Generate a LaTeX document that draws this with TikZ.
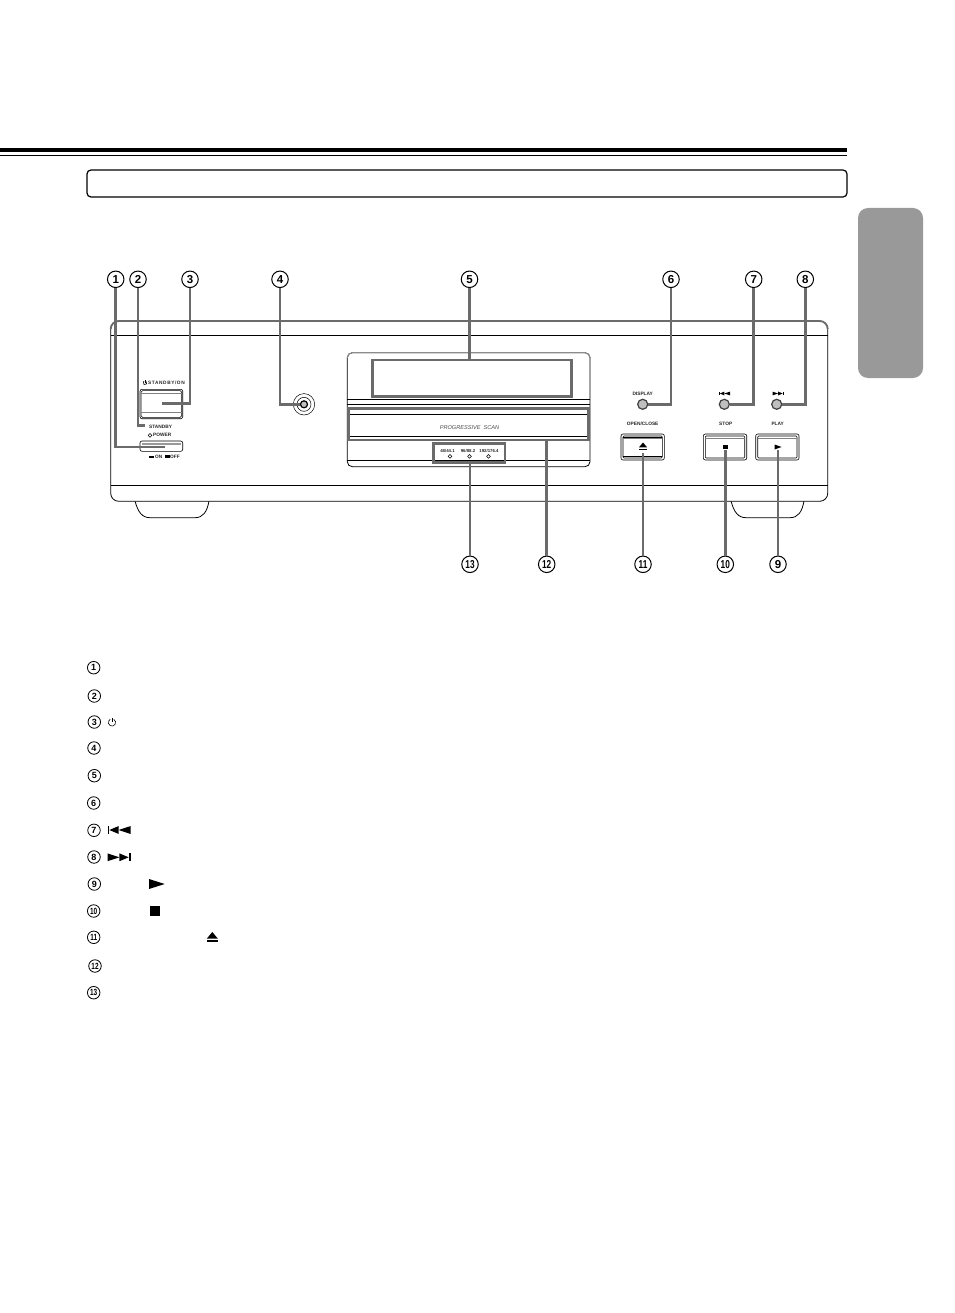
\documentclass[tikz,border=0pt]{standalone}
\usepackage{fontspec}
\setmainfont{Liberation Sans}
\usetikzlibrary{shapes.geometric}
\definecolor{leadc}{gray}{0.42}
\definecolor{tabc}{gray}{0.6}
\tikzset{
 num/.style={circle,draw=black,line width=1pt,fill=white,minimum size=16.5pt,inner sep=0pt,font=\fontsize{11.5}{12}\selectfont\bfseries},
 numsm/.style={circle,draw=black,line width=0.8pt,fill=white,minimum size=12.5pt,inner sep=0pt,font=\fontsize{9}{10}\selectfont\bfseries},
 leader/.style={draw=leadc,line width=2.5pt},
 hlbox/.style={rectangle,draw=leadc,line width=2.5pt,inner sep=0pt},
 outline/.style={draw=black,line width=0.8pt},
 tiny/.style={font=\fontsize{4.8}{5}\selectfont\bfseries,inner sep=0pt,text=black!85},
 led/.style={circle,draw=black!75,line width=1.2pt,fill=black!25,minimum size=10pt,inner sep=0pt},
 dia/.style={diamond,draw=black,line width=0.5pt,minimum size=4pt,inner sep=0pt,fill=white},
 btn/.style={draw=black,line width=0.6pt,rounded corners=2pt},
 pics/skipback/.style={code={\fill (-#1*0.5,-#1*0.17) rectangle (-#1*0.42,#1*0.17);
   \fill (-#1*0.42,0) -- (-#1*0.02,#1*0.17) -- (-#1*0.02,-#1*0.17) -- cycle;
   \fill (-#1*0.02,0) -- (#1*0.5,#1*0.17) -- (#1*0.5,-#1*0.17) -- cycle;}},
 pics/skipfwd/.style={code={\fill (#1*0.5,-#1*0.17) rectangle (#1*0.42,#1*0.17);
   \fill (#1*0.42,0) -- (#1*0.02,#1*0.17) -- (#1*0.02,-#1*0.17) -- cycle;
   \fill (#1*0.02,0) -- (-#1*0.5,#1*0.17) -- (-#1*0.5,-#1*0.17) -- cycle;}},
 pics/eject/.style={code={\fill (-#1*0.5,#1*0.1) -- (#1*0.5,#1*0.1) -- (0,-#1*0.5) -- cycle;
   \fill (-#1*0.5,#1*0.25) rectangle (#1*0.5,#1*0.45);}},
 pics/pwr/.style={code={\draw[line width=0.6pt] (-60:#1) arc (-60:240:#1); \draw[line width=0.6pt] (0,-#1*0.2) -- (0,-#1*1.3);}}
}
\newcommand{\narrow}[1]{\scalebox{0.72}[1]{#1}}
\begin{document}
\begin{tikzpicture}[x=1pt,y=-1pt]
\useasboundingbox (0,0) rectangle (954,1313);
% header
\fill (0,148) rectangle (847,152.4);
\fill (0,154.8) rectangle (847,155.9);
\node[draw=black,line width=1.2pt,rounded corners=4pt,minimum width=760pt,minimum height=27pt,inner sep=0pt] (titlebox) at (467,183.5) {};
\node[fill=tabc,rounded corners=10pt,minimum width=65pt,minimum height=170pt,inner sep=0pt] (tab) at (890.5,293) {};
% feet
\draw[outline] (135,501) .. controls (138,512) and (142,517.7) .. (150,517.7) -- (195,517.7) .. controls (203,517.7) and (207,512) .. (209,501);
\draw[outline] (731,501) .. controls (734,512) and (738,517.7) .. (746,517.7) -- (790,517.7) .. controls (798,517.7) and (802,512) .. (804,501);
% body
\draw[outline,fill=white,rounded corners=8pt] (110.7,321) rectangle (827.7,501.3);
\draw[leadc,line width=1.8pt,rounded corners=8pt] (110.7,329) -- (110.7,321) -- (827.7,321) -- (827.7,329);
\draw[outline] (110.7,335.2) -- (827.7,335.2);
\draw[outline] (110.7,485.3) -- (827.7,485.3);
% display panel
\draw[outline,rounded corners=5pt] (347.3,352.7) rectangle (590,466.7);
\draw[black!45,line width=1pt,rounded corners=5pt] (347.3,358) -- (347.3,352.7) -- (590,352.7) -- (590,358);
\draw[outline] (347.3,399.4) -- (590,399.4);
\draw[outline] (347.3,404.7) -- (590,404.7);
\draw[outline] (348,414) -- (588,414);
\draw[outline] (348,436.7) -- (588,436.7);
\draw[outline] (347.3,460) -- (590,460);
\node[font=\fontsize{5.6}{6}\selectfont\itshape,text=black!70,inner sep=0pt] (prog) at (469.5,427.3) {PROGRESSIVE\ \ SCAN};
\node[tiny,font=\fontsize{4.3}{5}\selectfont\bfseries] (l48) at (447.5,450.6) {48/44.1};
\node[tiny,font=\fontsize{4.3}{5}\selectfont\bfseries] (l96) at (468,450.6) {96/88.2};
\node[tiny,font=\fontsize{4.3}{5}\selectfont\bfseries] (l192) at (489,450.6) {192/176.4};
\node[dia] (d1) at (450,456.3) {};
\node[dia] (d2) at (469.5,456.3) {};
\node[dia] (d3) at (488.5,456.3) {};
\node[hlbox,minimum width=199.4pt,minimum height=36.7pt] (box5) at (472,378.3) {};
\node[hlbox,minimum width=240pt,minimum height=31.7pt] (box12) at (468.3,424.2) {};
\node[hlbox,minimum width=71.7pt,minimum height=19pt] (box13) at (469.2,452.8) {};
% left controls
\pic at (145,382.9) {pwr=1.9};
\node[tiny,anchor=west,font=\fontsize{4.8}{5}\selectfont\bfseries\addfontfeature{LetterSpace=12}] (sb) at (148,382.7) {STANDBY/ON};
\draw[btn] (140,389.3) rectangle (182.7,418.7);
\draw[black,line width=0.5pt,rounded corners=1.5pt] (141.2,390.5) rectangle (181.5,417.5);
\draw[black!50,line width=0.5pt] (141.2,393.3) -- (181.5,393.3);
\draw[black!50,line width=0.5pt] (141.2,412.7) -- (181.5,412.7);
\node[tiny,anchor=west] (stby) at (149,426.7) {STANDBY};
\node[tiny,anchor=west] (pow) at (153,435.3) {POWER};
\node[dia] (dpow) at (150,435.3) {};
\draw[btn] (140,441) rectangle (182.7,451.3);
\fill[black!40] (142,442.5) rectangle (181,444.5);
\fill (149,456.2) rectangle (153.5,457.7);
\node[tiny,anchor=west] (on) at (155,457.3) {ON};
\fill (165,455) rectangle (169.5,457.7);
\node[tiny,anchor=west] (off) at (170,457.3) {OFF};
% jack
\node[circle,draw=black,line width=0.5pt,minimum size=21.4pt,inner sep=0pt] (jack) at (304,404.3) {};
\node[circle,draw=black,line width=0.5pt,minimum size=14pt,inner sep=0pt] (jack2) at (304,404.3) {};
\node[circle,draw=black,line width=1.2pt,fill=black!25,minimum size=7pt,inner sep=0pt] (jack3) at (304,404.3) {};
% right controls
\node[led] (led6) at (642.7,404.3) {};
\node[led] (led7) at (724.3,404.3) {};
\node[led] (led8) at (776.7,404.3) {};
\node[tiny] (disp) at (642.7,393.5) {DISPLAY};
\pic at (724.5,393.5) {skipback=11};
\pic at (778,393.5) {skipfwd=11};
\node[tiny] (open) at (642.7,424) {OPEN/CLOSE};
\node[tiny] (stop) at (725.7,424) {STOP};
\node[tiny] (play) at (777.7,424) {PLAY};
\foreach \xa/\xb in {621/664.3,703.3/746.7,755.7/799}{
 \draw[btn] (\xa,434) rectangle (\xb,460);
 \draw[black,line width=0.6pt,rounded corners=1pt] (\xa+2,436) rectangle (\xb-2,458);
 \draw[black!50,line width=0.5pt] (\xa+2,438.5) -- (\xb-2,438.5);
}
\draw[black,line width=0.8pt] (623,437.8) -- (662.3,437.8);
\draw[black,line width=0.8pt] (623,456) -- (662.3,456);
\pic at (643,446.5) {eject=8};
\fill (723.3,444.5) rectangle (727.7,449);
\fill (774.5,444.5) -- (774.5,449.5) -- (781.5,447) -- cycle;
% numbered callouts
\foreach \n/\lab/\x/\y in {n1/1/115.7/279.3,n2/2/138/279.3,n3/3/190/279.3,n4/4/280/279.3,n5/5/469.5/279.3,n6/6/671/279.3,n7/7/753.7/279.3,n8/8/805.3/279.3,n9/9/778/564.3}{
 \node[num] (\n) at (\x,\y) {\lab};
}
\foreach \n/\lab/\x/\y in {n10/10/725.3/564.3,n11/11/643/564.3,n12/12/546.7/564.3,n13/13/470/564.3}{
 \node[num] (\n) at (\x,\y) {\narrow{\lab}};
}
\coordinate (e1) at (165,447);
\coordinate (e2) at (145,425.7);
\coordinate (e3) at (161.7,403.7);
\coordinate (e4) at (jack3.west);
\coordinate (e9) at (778,450);
\coordinate (e10) at (725.3,450);
\coordinate (e11) at (643,452.5);
\draw[leader] (n1.south) |- (e1);
\draw[leader] (n2.south) |- (e2);
\draw[leader] (n3.south) |- (e3);
\draw[leader] (n4.south) |- (e4);
\draw[leader] (n5.south) -- (n5.south |- box5.north);
\draw[leader] (n6.south) |- (led6.east);
\draw[leader] (n7.south) |- (led7.east);
\draw[leader] (n8.south) |- (led8.east);
\draw[leader] (n9.north) -- (e9);
\draw[leader] (n10.north) -- (e10);
\draw[leader] (n11.north) -- (e11);
\draw[leader] (n12.north) -- (n12.north |- box12.south);
\draw[leader] (n13.north) -- (n13.north |- box13.south);
% list
\foreach \n/\lab/\x/\y in {m1/1/93.7/667.7,m2/2/94.3/696,m3/3/94.3/722,m4/4/94/748,m5/5/94.3/775.7,m6/6/93.7/803,m7/7/94/830.3,m8/8/94/857,m9/9/94.3/884}{
 \node[numsm] (\n) at (\x,\y) {\lab};
}
\foreach \n/\lab/\x/\y in {m10/10/93.7/911,m11/11/93.7/937.3,m12/12/95/966,m13/13/93.7/992.7}{
 \node[numsm] (\n) at (\x,\y) {\narrow{\lab}};
}
\pic at (112,722.5) {pwr=3.6};
\pic at (119,830) {skipback=23};
\pic at (119,857.3) {skipfwd=23};
\fill (149,879) -- (149,889) -- (164.7,884) -- cycle;
\fill (150.3,906.3) rectangle (160.3,915.7);
\pic at (212.3,937.5) {eject=11};
\end{tikzpicture}
\end{document}
